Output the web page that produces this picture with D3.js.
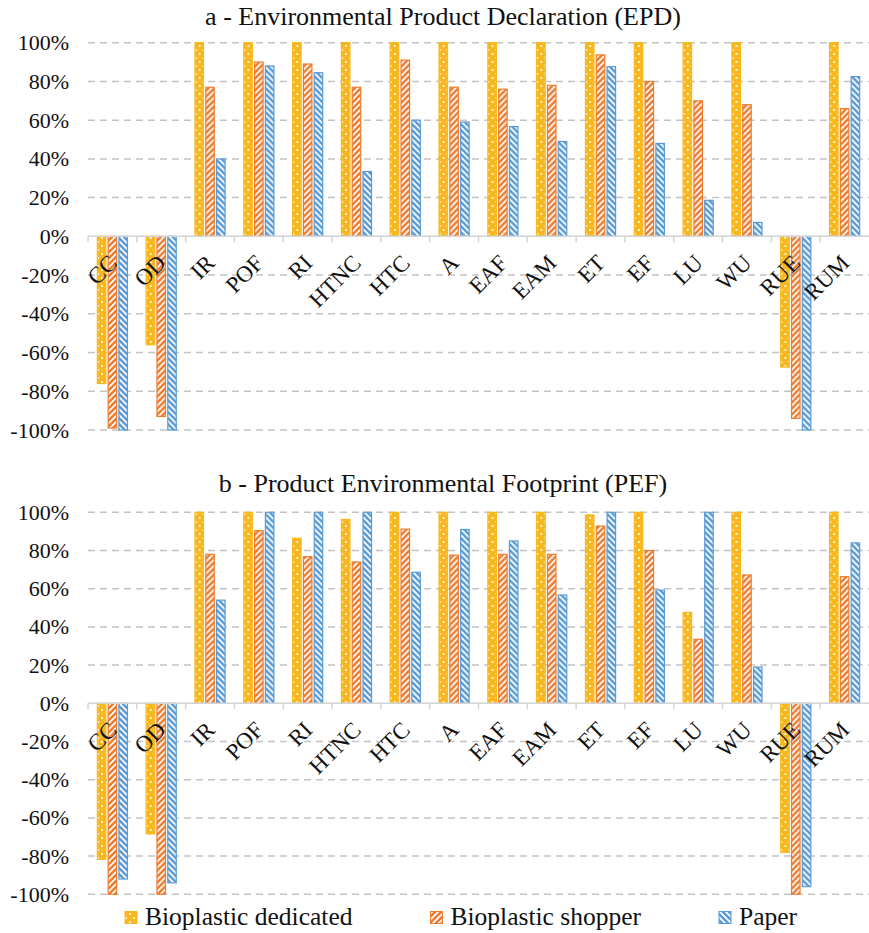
<!DOCTYPE html>
<html>
<head>
<meta charset="utf-8">
<script src="https://cdn.jsdelivr.net/npm/d3@7"></script>
<style>
  body { margin: 0; background: #fff; }
  svg { display: block; font-family: "Liberation Serif", "Times New Roman", serif; }
</style>
</head>
<body>
<svg width="869" height="933"></svg>
<script>
const categories = ["CC", "OD", "IR", "POF", "RI", "HTNC", "HTC", "A", "EAF", "EAM", "ET", "EF", "LU", "WU", "RUE", "RUM"];
const seriesNames = ["Bioplastic dedicated", "Bioplastic shopper", "Paper"];
const yTicks = [-1, -0.8, -0.6, -0.4, -0.2, 0, 0.2, 0.4, 0.6, 0.8, 1];

// a - EPD
const epdDedicated = [-0.76, -0.56, 1, 1, 1, 1, 1, 1, 1, 1, 1, 1, 1, 1, -0.675, 1];
const epdShopper = [-0.99, -0.93, 0.77, 0.90, 0.89, 0.77, 0.91, 0.77, 0.76, 0.78, 0.937, 0.80, 0.70, 0.68, -0.94, 0.66];
const epdPaper = [-1, -1, 0.40, 0.88, 0.845, 0.335, 0.60, 0.59, 0.567, 0.49, 0.876, 0.48, 0.186, 0.072, -1, 0.825];

// b - PEF
const pefDedicated = [-0.817, -0.684, 1, 1, 0.864, 0.963, 1, 1, 1, 1, 0.986, 1, 0.476, 1, -0.78, 1];
const pefShopper = [-1, -1, 0.78, 0.904, 0.768, 0.74, 0.912, 0.776, 0.78, 0.78, 0.928, 0.80, 0.335, 0.672, -1, 0.663];
const pefPaper = [-0.92, -0.94, 0.54, 1, 1, 1, 0.686, 0.91, 0.85, 0.567, 1, 0.593, 1, 0.19, -0.96, 0.84];

const colors = ["#F8B71C", "#ED7D31", "#5B9BD5"];
const serif = "'Liberation Serif', 'Times New Roman', serif";

const svg = d3.select("svg");
const defs = svg.append("defs");

// bar fills: dots, upward stripes, downward stripes
const p0 = defs.append("pattern").attr("id", "pat0")
  .attr("patternUnits", "userSpaceOnUse").attr("width", 8).attr("height", 8);
p0.append("rect").attr("width", 8).attr("height", 8).attr("fill", colors[0]);
p0.append("circle").attr("cx", 2).attr("cy", 2).attr("r", 1.1).attr("fill", "#fff");
p0.append("circle").attr("cx", 6).attr("cy", 6).attr("r", 1.1).attr("fill", "#fff");

const p1 = defs.append("pattern").attr("id", "pat1")
  .attr("patternUnits", "userSpaceOnUse").attr("width", 6).attr("height", 6);
p1.append("rect").attr("width", 6).attr("height", 6).attr("fill", colors[1]);
p1.append("path").attr("d", "M-1,7 L7,-1 M-4,4 L4,-4 M2,10 L10,2")
  .attr("stroke", "#fff").attr("stroke-width", 1.7);

const p2 = defs.append("pattern").attr("id", "pat2")
  .attr("patternUnits", "userSpaceOnUse").attr("width", 6).attr("height", 6);
p2.append("rect").attr("width", 6).attr("height", 6).attr("fill", colors[2]);
p2.append("path").attr("d", "M-1,-1 L7,7 M-4,2 L4,10 M2,-4 L10,4")
  .attr("stroke", "#fff").attr("stroke-width", 1.7);

const x = d3.scaleBand()
  .domain(categories)
  .range([88, 869])
  .padding(0);

const cw = x.bandwidth();
const x1 = d3.scaleBand()
  .domain(seriesNames)
  .range([cw / 2 - 15.55, cw / 2 + 15.55])
  .paddingInner(0.12)
  .paddingOuter(0);

function renderPanel(title, titleY, top, bottom, values) {
  const y = d3.scaleLinear()
    .domain([-1, 1])
    .range([bottom, top]);

  const g = svg.append("g");

  // title
  svg.append("text")
    .attr("x", 443)
    .attr("y", titleY)
    .attr("text-anchor", "middle")
    .style("font-family", serif)
    .style("font-size", "26px")
    .attr("fill", "#111")
    .text(title);

  // dashed grid
  g.selectAll(".grid")
    .data(yTicks.filter(d => d !== 0))
    .enter().append("line")
    .attr("x1", 88)
    .attr("x2", 869)
    .attr("y1", d => y(d))
    .attr("y2", d => y(d))
    .attr("stroke", "#C4C4C4")
    .attr("stroke-width", 1.5)
    .attr("stroke-dasharray", "7,5");

  // y labels
  const yAxis = g.append("g")
    .attr("transform", "translate(69,0)")
    .call(d3.axisLeft(y).tickValues(yTicks).tickSize(0).tickPadding(0));
  yAxis.attr("font-family", null);
  yAxis.select(".domain").remove();
  yAxis.selectAll("text")
    .style("font-family", serif)
    .style("font-size", "22px")
    .attr("fill", "#111")
    .text(d => Math.round(d * 100) + "%");

  // bars
  const groups = g.selectAll(".cat")
    .data(categories)
    .enter().append("g")
    .attr("transform", d => `translate(${x(d)},0)`);

  groups.selectAll("rect")
    .data((c, i) => seriesNames.map((s, k) => ({ s: s, k: k, v: values[k][i] })))
    .enter().append("rect")
    .attr("x", d => x1(d.s) + 0.5)
    .attr("width", x1.bandwidth() - 1)
    .attr("y", d => Math.min(y(d.v), y(0)))
    .attr("height", d => Math.abs(y(d.v) - y(0)))
    .attr("fill", d => `url(#pat${d.k})`)
    .attr("stroke", d => colors[d.k])
    .attr("stroke-width", 1.2);

  // zero axis with ticks between categories
  const xAxis = g.append("g")
    .attr("transform", `translate(0,${y(0)})`);
  xAxis.append("line")
    .attr("x1", 88).attr("x2", 869)
    .attr("stroke", "#D4D4D4").attr("stroke-width", 1.5);
  xAxis.selectAll(".tk")
    .data(categories)
    .enter().append("line")
    .attr("x1", d => x(d)).attr("x2", d => x(d))
    .attr("y1", 0).attr("y2", 6)
    .attr("stroke", "#D4D4D4").attr("stroke-width", 1.5);

  // rotated category labels
  g.selectAll(".lab")
    .data(categories)
    .enter().append("text")
    .attr("transform", d => `translate(${x(d) + cw / 2 + 6},${y(0) + 28}) rotate(-45)`)
    .attr("text-anchor", "end")
    .style("font-family", serif)
    .style("font-size", "23px")
    .attr("fill", "#111")
    .text(d => d);
}

renderPanel("a - Environmental Product Declaration (EPD)", 25, 42.7, 430,
  [epdDedicated, epdShopper, epdPaper]);
renderPanel("b - Product Environmental Footprint (PEF)", 491.7, 512.3, 894.3,
  [pefDedicated, pefShopper, pefPaper]);

// legend
const legend = svg.append("g");
let lx = 125;
seriesNames.forEach((name, k) => {
  legend.append("rect")
    .attr("x", lx).attr("y", 911.5)
    .attr("width", 12).attr("height", 12)
    .attr("fill", `url(#pat${k})`)
    .attr("stroke", colors[k]).attr("stroke-width", 1);
  const t = legend.append("text")
    .attr("x", lx + 20)
    .attr("y", 925)
    .style("font-family", serif)
    .style("font-size", "25.5px")
    .attr("fill", "#111")
    .text(name);
  lx += 20 + t.node().getComputedTextLength() + 78;
});
</script>
</body>
</html>
